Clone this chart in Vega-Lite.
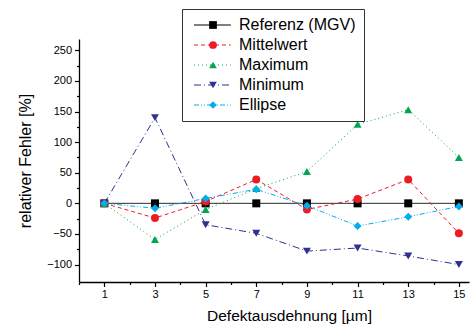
{
  "$schema": "https://vega.github.io/schema/vega-lite/v6.json",
  "width": 390,
  "height": 243,
  "autosize": "none",
  "padding": {"left": 79, "top": 39, "right": 3, "bottom": 45},
  "background": "white",
  "config": {
    "view": {"stroke": null},
    "font": "Liberation Sans",
    "axis": {
      "domainColor": "#000000",
      "domainWidth": 1.3,
      "tickColor": "#000000",
      "tickWidth": 1.2,
      "labelFont": "Liberation Sans",
      "labelFontSize": 11,
      "labelColor": "#000000",
      "titleFont": "Liberation Sans",
      "titleFontWeight": "normal",
      "titleColor": "#000000",
      "grid": false
    },
    "legend": {
      "labelFont": "Liberation Sans",
      "labelFontSize": 16,
      "labelLimit": 300,
      "rowPadding": 4,
      "padding": 8,
      "clipHeight": 16
    }
  },
  "data": {
    "values": [
      {"x": 1, "y": 0, "series": "Referenz (MGV)"},
      {"x": 3, "y": 0, "series": "Referenz (MGV)"},
      {"x": 5, "y": 0, "series": "Referenz (MGV)"},
      {"x": 7, "y": 0, "series": "Referenz (MGV)"},
      {"x": 9, "y": 0, "series": "Referenz (MGV)"},
      {"x": 11, "y": 0, "series": "Referenz (MGV)"},
      {"x": 13, "y": 0, "series": "Referenz (MGV)"},
      {"x": 15, "y": 0, "series": "Referenz (MGV)"},
      {"x": 1, "y": 0, "series": "Mittelwert"},
      {"x": 3, "y": -24, "series": "Mittelwert"},
      {"x": 5, "y": 3, "series": "Mittelwert"},
      {"x": 7, "y": 39, "series": "Mittelwert"},
      {"x": 9, "y": -10, "series": "Mittelwert"},
      {"x": 11, "y": 7, "series": "Mittelwert"},
      {"x": 13, "y": 39, "series": "Mittelwert"},
      {"x": 15, "y": -49, "series": "Mittelwert"},
      {"x": 1, "y": 0, "series": "Maximum"},
      {"x": 3, "y": -59, "series": "Maximum"},
      {"x": 5, "y": -10, "series": "Maximum"},
      {"x": 7, "y": 24, "series": "Maximum"},
      {"x": 9, "y": 52, "series": "Maximum"},
      {"x": 11, "y": 129, "series": "Maximum"},
      {"x": 13, "y": 153, "series": "Maximum"},
      {"x": 15, "y": 75, "series": "Maximum"},
      {"x": 1, "y": 0, "series": "Minimum"},
      {"x": 3, "y": 140, "series": "Minimum"},
      {"x": 5, "y": -35, "series": "Minimum"},
      {"x": 7, "y": -49, "series": "Minimum"},
      {"x": 9, "y": -78, "series": "Minimum"},
      {"x": 11, "y": -73, "series": "Minimum"},
      {"x": 13, "y": -86, "series": "Minimum"},
      {"x": 15, "y": -100, "series": "Minimum"},
      {"x": 1, "y": 0, "series": "Ellipse"},
      {"x": 3, "y": -8, "series": "Ellipse"},
      {"x": 5, "y": 8, "series": "Ellipse"},
      {"x": 7, "y": 23, "series": "Ellipse"},
      {"x": 9, "y": -4, "series": "Ellipse"},
      {"x": 11, "y": -37, "series": "Ellipse"},
      {"x": 13, "y": -22, "series": "Ellipse"},
      {"x": 15, "y": -5, "series": "Ellipse"}
    ]
  },
  "encoding": {
    "x": {
      "field": "x",
      "type": "quantitative",
      "scale": {"domain": [0, 15.4], "nice": false, "zero": false},
      "axis": {
        "title": "Defektausdehnung [µm]",
        "titleFontSize": 15.5,
        "titleX": 210,
        "titleY": 38,
        "titleBaseline": "alphabetic",
        "titleAnchor": null,
        "values": [0, 1, 2, 3, 4, 5, 6, 7, 8, 9, 10, 11, 12, 13, 14, 15],
        "labelExpr": "datum.value % 2 === 1 ? datum.label : ''",
        "labelAngle": 0,
        "labelPadding": 2,
        "tickSize": {"condition": {"test": "datum.value % 2 === 0", "value": 2.5}, "value": 4.5}
      }
    },
    "y": {
      "field": "y",
      "type": "quantitative",
      "scale": {"domain": [-128.5, 268.5], "nice": false, "zero": false},
      "axis": {
        "title": "relativer Fehler [%]",
        "titleFontSize": 16,
        "titleX": -49,
        "titleY": 121.5,
        "titleAngle": 270,
        "titleAlign": "center",
        "titleBaseline": "alphabetic",
        "values": [-100, -75, -50, -25, 0, 25, 50, 75, 100, 125, 150, 175, 200, 225, 250],
        "labelExpr": "datum.value % 50 === 0 ? datum.label : ''",
        "labelPadding": 3,
        "tickSize": {"condition": {"test": "datum.value % 50 !== 0", "value": 2.5}, "value": 4.5}
      }
    }
  },
  "layer": [
    {
      "mark": {"type": "line", "strokeWidth": 1},
      "encoding": {
        "stroke": {
          "field": "series",
          "type": "nominal",
          "scale": {
            "domain": ["Referenz (MGV)", "Mittelwert", "Maximum", "Minimum", "Ellipse"],
            "range": ["#000000", "#ed1c24", "#00a651", "#2e3192", "#00aeef"]
          },
          "legend": {
            "title": null,
            "orient": "none",
            "legendX": 103,
            "legendY": -30,
            "padding": 8,
            "strokeColor": "#333333",
            "symbolType": "M-1,0H8.2",
            "symbolSize": 64,
            "symbolStrokeWidth": 1,
            "symbolOffset": 0,
            "labelOffset": 33,
            "labelFontSize": 16,
            "labelColor": "#000000",
            "rowPadding": 4,
            "clipHeight": 16
          }
        },
        "strokeDash": {
          "field": "series",
          "type": "nominal",
          "scale": {
            "domain": ["Referenz (MGV)", "Mittelwert", "Maximum", "Minimum", "Ellipse"],
            "range": [[1, 0], [4, 3], [1, 3], [7, 3, 1, 3], [5, 2, 1, 2, 1, 2]]
          },
          "legend": {
            "title": null,
            "orient": "none",
            "legendX": 103,
            "legendY": -30
          }
        }
      }
    },
    {
      "mark": {"type": "point", "filled": true, "size": 64, "opacity": 1},
      "encoding": {
        "fill": {
          "field": "series",
          "type": "nominal",
          "scale": {
            "domain": ["Referenz (MGV)", "Mittelwert", "Maximum", "Minimum", "Ellipse", "~"],
            "range": ["#000000", "#ed1c24", "#00a651", "#2e3192", "#00aeef", "#ffffff"]
          },
          "legend": {
            "title": null,
            "orient": "none",
            "legendX": 118,
            "legendY": -30,
            "values": ["Referenz (MGV)", "Mittelwert", "Maximum", "Minimum", "Ellipse"],
            "padding": 8,
            "symbolSize": 60,
            "symbolStrokeWidth": 0,
            "symbolOffset": 0,
            "labelExpr": "''",
            "labelFontSize": 16,
            "rowPadding": 4,
            "clipHeight": 16
          }
        },
        "shape": {
          "field": "series",
          "type": "nominal",
          "scale": {
            "domain": ["Referenz (MGV)", "Mittelwert", "Maximum", "Minimum", "Ellipse", "~"],
            "range": ["square", "circle", "triangle-up", "triangle-down", "diamond", "circle"]
          },
          "legend": {
            "title": null,
            "orient": "none",
            "legendX": 118,
            "legendY": -30,
            "values": ["Referenz (MGV)", "Mittelwert", "Maximum", "Minimum", "Ellipse"]
          }
        }
      }
    }
  ]
}
